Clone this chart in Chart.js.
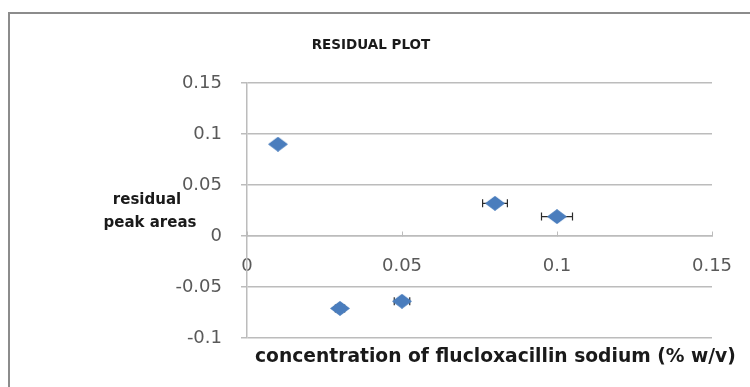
<!DOCTYPE html>
<html>
<head>
<meta charset="utf-8">
<script src="https://cdn.jsdelivr.net/npm/chart.js@4"></script>
<style>
  html, body { margin: 0; padding: 0; background: #ffffff; }
  #wrap { width: 750px; height: 387px; }
</style>
</head>
<body>
<div id="wrap"><canvas id="residualChart" width="750" height="387"></canvas></div>
<script>
// Values
const concentration = [0.01, 0.03, 0.05, 0.08, 0.1];
const residuals = [0.090, -0.071, -0.064, 0.032, 0.019];
const xErrors = [0.0005, 0.0015, 0.0025, 0.004, 0.005];

const xTickLabels = ['0', '0.05', '0.1', '0.15'];
const yTickLabels = ['-0.1', '-0.05', '0', '0.05', '0.1', '0.15'];

const markerColor = '#4a7dbd';
const gridColor = '#bcbcbc';
const tickColor = '#595959';

// Flat diamond marker like the Excel one
function makeDiamond(w, h) {
    const c = document.createElement('canvas');
    c.width = w;
    c.height = h;
    const g = c.getContext('2d');
    g.fillStyle = markerColor;
    g.beginPath();
    g.moveTo(w / 2, 0);
    g.lineTo(w, h / 2);
    g.lineTo(w / 2, h);
    g.lineTo(0, h / 2);
    g.closePath();
    g.fill();
    return c;
}

// Horizontal error bars, drawn through the scales
const errorBars = {
    id: 'errorBars',
    beforeDatasetsDraw(chart) {
        const ctx = chart.ctx;
        const xs = chart.scales.x;
        const ys = chart.scales.y;
        ctx.save();
        ctx.strokeStyle = '#2b2b2b';
        ctx.lineWidth = 1.2;
        concentration.forEach((c, i) => {
            const y = ys.getPixelForValue(residuals[i]);
            const x1 = xs.getPixelForValue(c - xErrors[i]);
            const x2 = xs.getPixelForValue(c + xErrors[i]);
            ctx.beginPath();
            ctx.moveTo(x1, y);
            ctx.lineTo(x2, y);
            ctx.moveTo(x1, y - 4);
            ctx.lineTo(x1, y + 4);
            ctx.moveTo(x2, y - 4);
            ctx.lineTo(x2, y + 4);
            ctx.stroke();
        });
        ctx.restore();
    }
};

// Chart frame, chart title and the two axis titles
const frameAndTitles = {
    id: 'frameAndTitles',
    afterDraw(chart) {
        const ctx = chart.ctx;
        const area = chart.chartArea;
        ctx.save();
        ctx.strokeStyle = '#8c8c8c';
        ctx.lineWidth = 2;
        ctx.beginPath();
        ctx.moveTo(9, 387);
        ctx.lineTo(9, 13);
        ctx.lineTo(750, 13);
        ctx.stroke();

        ctx.fillStyle = '#1a1a1a';
        ctx.textBaseline = 'middle';
        ctx.textAlign = 'center';
        ctx.font = 'bold 13.5px "DejaVu Sans"';
        ctx.fillText('RESIDUAL PLOT', 371, 45);

        ctx.font = 'bold 15px "DejaVu Sans"';
        ctx.fillText('residual', 147, 200);
        ctx.fillText('peak areas', 150, 223);

        ctx.textAlign = 'left';
        ctx.font = 'bold 18.7px "DejaVu Sans"';
        ctx.fillText('concentration of flucloxacillin sodium (% w/v)', area.left + 8, 357);
        ctx.restore();
    }
};

const ctx = document.getElementById('residualChart');

new Chart(ctx, {
    type: 'scatter',
    data: {
        datasets: [{
            label: 'residual',
            data: concentration.map((c, i) => ({ x: c, y: residuals[i] })),
            pointStyle: makeDiamond(20, 15),
            pointRadius: 10,
            backgroundColor: markerColor,
            borderColor: markerColor
        }]
    },
    options: {
        responsive: false,
        animation: false,
        layout: {
            padding: { left: 0, right: 38, top: 83, bottom: 49 }
        },
        plugins: {
            legend: { display: false },
            tooltip: { enabled: false },
            title: { display: false }
        },
        scales: {
            x: {
                type: 'linear',
                position: { y: 0 },
                min: 0,
                max: 0.15,
                afterFit: (scale) => { scale.paddingLeft = 0; scale.paddingRight = 0; },
                grid: {
                    drawOnChartArea: false,
                    drawTicks: true,
                    tickLength: -5,
                    color: gridColor
                },
                border: { display: true, color: gridColor, width: 1.5 },
                ticks: {
                    stepSize: 0.05,
                    padding: 25,
                    maxRotation: 0,
                    color: tickColor,
                    font: { family: 'DejaVu Sans', size: 18 },
                    callback: (value, index) => xTickLabels[index]
                }
            },
            y: {
                type: 'linear',
                min: -0.1,
                max: 0.15,
                afterFit: (scale) => { scale.width = 247; scale.paddingTop = 0; scale.paddingBottom = 0; },
                grid: {
                    color: gridColor,
                    lineWidth: 1.5,
                    drawTicks: true,
                    tickLength: 6
                },
                border: { display: true, color: gridColor, width: 1.5 },
                ticks: {
                    stepSize: 0.05,
                    padding: 19,
                    color: tickColor,
                    font: { family: 'DejaVu Sans', size: 18 },
                    callback: (value, index) => yTickLabels[index]
                }
            }
        }
    },
    plugins: [errorBars, frameAndTitles]
});
</script>
</body>
</html>
